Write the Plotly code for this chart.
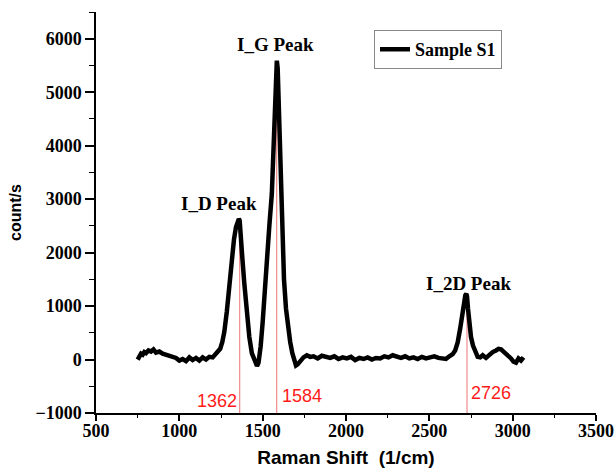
import plotly.graph_objects as go

# Raman spectrum
shift = [750, 760, 770, 780, 790, 800, 815, 830, 845, 860, 880, 900, 920, 940, 960, 980,
         1000, 1020, 1040, 1060, 1080, 1100, 1120, 1140, 1160, 1180, 1200, 1215, 1230,
         1245, 1258, 1270, 1285, 1300, 1315, 1328, 1340, 1350, 1357, 1362, 1368, 1378,
         1390, 1405, 1420, 1435, 1448, 1458, 1466, 1475, 1488, 1500, 1512, 1525, 1540,
         1555, 1566, 1574, 1580, 1585, 1590, 1597, 1606, 1616, 1628, 1640, 1652, 1665,
         1678, 1690, 1700, 1710, 1725, 1745, 1765, 1785, 1805, 1830, 1855, 1880, 1905,
         1930, 1955, 1980, 2005, 2030, 2055, 2080, 2105, 2130, 2155, 2180, 2205, 2230,
         2255, 2280, 2305, 2330, 2355, 2380, 2405, 2430, 2455, 2480, 2505, 2530, 2555,
         2580, 2600, 2620, 2640, 2655, 2670, 2685, 2698, 2708, 2716, 2722, 2726, 2732,
         2740, 2750, 2762, 2776, 2790, 2805, 2820, 2840, 2860, 2880, 2900, 2915, 2930,
         2945, 2960, 2975, 2990, 3005, 3020, 3035, 3050, 3065, 3080]
counts = [0, 60, 110, 90, 140, 120, 170, 150, 190, 130, 150, 110, 90, 70, 60, 30,
          -20, 10, -30, 40, -10, 30, -20, 40, 0, 50, 40, 90, 120,
          200, 330, 520, 900, 1400, 1900, 2250, 2480, 2580, 2630, 2600, 2400, 1900,
          1420, 850, 420, 120, 10, -90, -120, -60, 250, 700, 1300, 1950, 2500,
          3100, 3900, 4800, 5400, 5590, 5450, 4700, 3400, 2400, 1500, 950, 600, 330,
          120, -20, -110, -90, -20, 40, 80, 50, 60, 20, 70, 40, 30,
          60, 10, 40, 20, 50, -10, 30, 10, 40, 0, 30, 20, 60,
          40, 80, 50, 30, 60, 20, 40, 10, 50, 20, 40, 60, 30,
          20, 10, 60, 100, 170, 320, 580, 900, 1080, 1200, 1230, 1180,
          950, 650, 420, 260, 130, 50, 40, 80, 30, 90, 140, 170, 200,
          190, 150, 90, 60, 20, -40, -60, 20, -20, 40]

peak_positions = [1362, 1584, 2726]
peak_heights = [2620, 5580, 1220]
peak_texts = ["1362", "1584", "2726"]
peak_names = ["I_D Peak", "I_G Peak", "I_2D Peak"]
name_x = [1239, 1575, 2737]
name_y = [2917, 5890, 1421]

serif = "Liberation Serif"
sans = "Liberation Sans"

fig = go.Figure()
fig.add_trace(go.Scatter(
    x=shift, y=counts, mode="lines", name="Sample S1",
    line=dict(color="black", width=4.5),
))

for px, ph in zip(peak_positions, peak_heights):
    fig.add_shape(type="line", xref="x", yref="y", x0=px, x1=px, y0=-1000, y1=ph,
                  line=dict(color="#f28b8b", width=1.2), layer="below")

label_y = [-767, -690, -635]
label_anchor = ["right", "left", "left"]
label_shift = [-1, 3, 2]
for px, txt, ly, anc, sh in zip(peak_positions, peak_texts, label_y, label_anchor, label_shift):
    fig.add_annotation(x=px, y=ly, text=txt, showarrow=False, xanchor=anc, xshift=sh,
                       yanchor="middle", font=dict(family=sans, size=18, color="#ff1a1a"))

for nx, ny, nt in zip(name_x, name_y, peak_names):
    fig.add_annotation(x=nx, y=ny, text="<b>" + nt + "</b>", showarrow=False,
                       xanchor="center", yanchor="middle",
                       font=dict(family=serif, size=19, color="black"))

fig.update_layout(
    width=616, height=474,
    margin=dict(l=96, r=20, t=12, b=61, autoexpand=False),
    plot_bgcolor="white", paper_bgcolor="white",
    showlegend=True,
    legend=dict(x=0.556, y=0.955, xanchor="left", yanchor="top",
                bordercolor="#888888", borderwidth=1, bgcolor="white",
                font=dict(family=serif, size=18, color="black", weight="bold"),
                tracegroupgap=0, itemwidth=30),
    xaxis=dict(
        range=[500, 3500], tickmode="linear", tick0=500, dtick=500,
        showgrid=False, zeroline=False, showline=True, linecolor="black", linewidth=1.5,
        ticks="outside", ticklen=6, tickwidth=1.5, tickcolor="black",
        ticklabelstandoff=-5,
        minor=dict(ticks="outside", ticklen=3, tickwidth=1, tickcolor="black", dtick=250, showgrid=False),
        tickfont=dict(family=serif, size=18, color="black", weight="bold"),
        title=dict(text="Raman Shift  (1/cm)", standoff=10,
                   font=dict(family=sans, size=19, color="black", weight="bold")),
    ),
    yaxis=dict(
        range=[-1000, 6500], tickmode="linear", tick0=-1000, dtick=1000,
        showgrid=False, zeroline=False, showline=True, linecolor="black", linewidth=1.5,
        ticks="outside", ticklen=9, tickwidth=1.5, tickcolor="black",
        minor=dict(ticks="outside", ticklen=5, tickwidth=1, tickcolor="black", dtick=500, showgrid=False),
        tickfont=dict(family=serif, size=18, color="black", weight="bold"),
        title=dict(text="count/s", standoff=10,
                   font=dict(family=sans, size=16, color="black", weight="bold")),
    ),
)

fig.write_html("out.html", config={"displayModeBar": False},
               post_script="document.body.style.margin='0';")
